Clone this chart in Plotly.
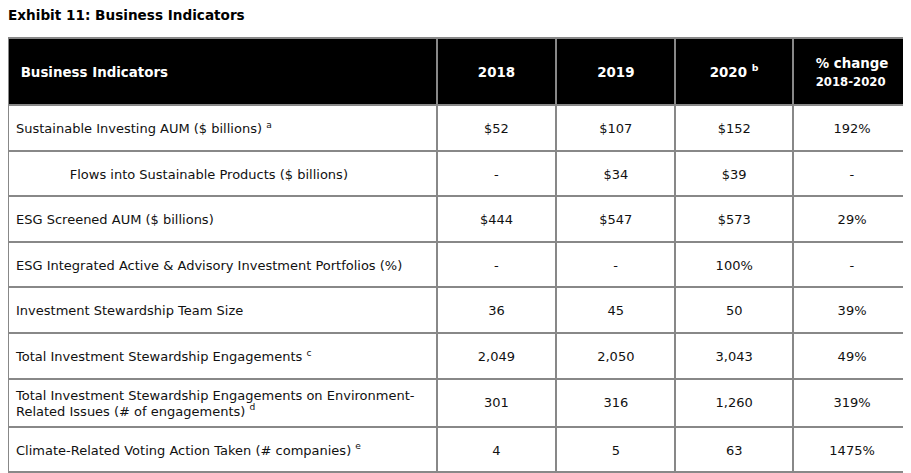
import plotly.graph_objects as go

title = "Exhibit 11: Business Indicators"

header_labels = ["Business Indicators", "2018", "2019", "2020 <sup>b</sup>", "% change"]
header_sublabel = "2018-2020"

indicators = [
    "Sustainable Investing AUM ($ billions) <sup>a</sup>",
    "Flows into Sustainable Products ($ billions)",
    "ESG Screened AUM ($ billions)",
    "ESG Integrated Active & Advisory Investment Portfolios (%)",
    "Investment Stewardship Team Size",
    "Total Investment Stewardship Engagements <sup>c</sup>",
    "Total Investment Stewardship Engagements on Environment-<br>Related Issues (# of engagements) <sup>d</sup>",
    "Climate-Related Voting Action Taken (# companies) <sup>e</sup>",
]
indented = [False, True, False, False, False, False, False, False]

values_2018 = ["$52", "-", "$444", "-", "36", "2,049", "301", "4"]
values_2019 = ["$107", "$34", "$547", "-", "45", "2,050", "316", "5"]
values_2020 = ["$152", "$39", "$573", "100%", "50", "3,043", "1,260", "63"]
pct_change = ["192%", "-", "29%", "-", "39%", "49%", "319%", "1475%"]

FONT = "DejaVu Sans, Verdana, sans-serif"
BODY_SIZE = 13
HEAD_SIZE = 13.4
SUB_SIZE = 11.7
# plotly table text is top aligned: an invisible first line pushes it down.
# cell font size sets the line step, the spacer span size sets the offset.
STEP = 6.15
HEAD_STEP = 6.9
BODY_PAD = 12.65
WRAP_PAD = 5
HEAD_PAD = 23.6
PCT_PAD = 13.9
LINE = "#888888"
NB = "\u00a0"


def span(text, size):
    return "<span style='font-size:%spx'>%s</span>" % (size, text)


def lead(text, size, pad):
    return span(NB, pad) + "<br>" + span(text, size)


# header cells
head_vals = []
for i, lab in enumerate(header_labels):
    if i == 0:
        head_vals.append(lead("<b>" + NB + lab + "</b>", HEAD_SIZE, HEAD_PAD))
    elif i == len(header_labels) - 1:
        head_vals.append(lead("<b>" + lab + "</b>", HEAD_SIZE, PCT_PAD) + "<br>" + NB
                         + "<br>" + span("<b>" + header_sublabel + "</b>", SUB_SIZE))
    else:
        head_vals.append(lead("<b>" + lab + "</b>", HEAD_SIZE, HEAD_PAD))

# body cells
first_col = []
for name, ind in zip(indicators, indented):
    pre = NB * 13 if ind else ""
    parts = name.split("<br>")
    if len(parts) > 1:
        first_col.append(span(NB, WRAP_PAD) + "<br>"
                         + ("<br>" + NB + "<br>").join(span(pre + p, BODY_SIZE) for p in parts))
    else:
        first_col.append(lead(pre + name, BODY_SIZE, BODY_PAD))

other_cols = []
for col in [values_2018, values_2019, values_2020, pct_change]:
    other_cols.append([lead(v, BODY_SIZE, BODY_PAD) for v in col])

cell_vals = [first_col] + other_cols

fig = go.Figure(go.Table(
    columnwidth=[429, 120, 119, 118, 118],
    header=dict(
        values=head_vals,
        fill_color="black",
        line=dict(color=LINE, width=2),
        align=["left", "center", "center", "center", "center"],
        font=dict(family=FONT, size=HEAD_STEP, color="white"),
        height=67,
    ),
    cells=dict(
        values=cell_vals,
        fill_color="white",
        line=dict(color=LINE, width=2),
        align=["left", "center", "center", "center", "center"],
        font=dict(family=FONT, size=STEP, color="#111111"),
        height=45.6,
    ),
    domain=dict(x=[0, 1], y=[0, 1]),
))

# the page body keeps its default 8px margin, so the figure is 8px smaller
fig.update_layout(
    width=903,
    height=465,
    margin=dict(l=0, r=0, t=30, b=0),
    paper_bgcolor="white",
    title=dict(
        text="<b>" + title + "</b>",
        x=0, xref="container", xanchor="left",
        y=1 - 7 / 465, yref="container", yanchor="middle",
        font=dict(family=FONT, size=13.6, color="black"),
    ),
)

fig.write_html("out.html")
